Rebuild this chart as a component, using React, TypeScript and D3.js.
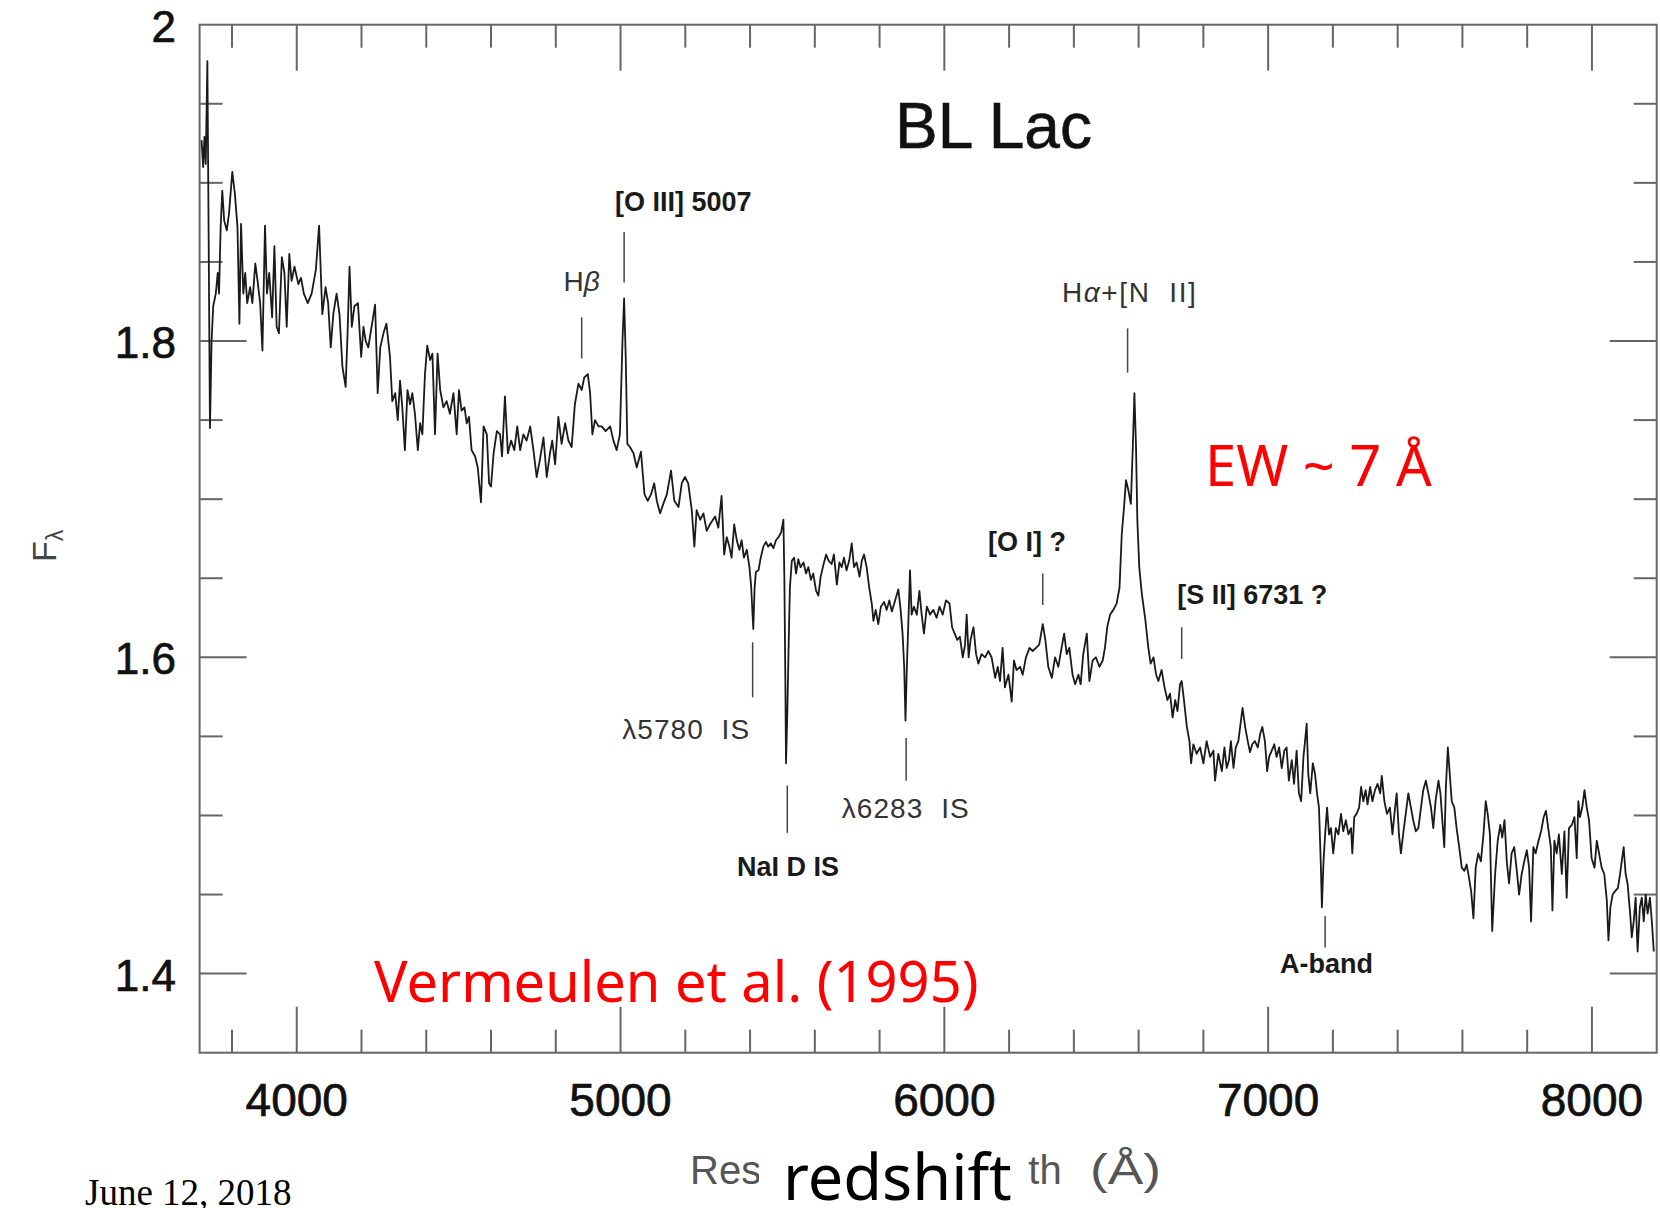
import React from "react";
import * as d3 from "d3";

// ---- data (rest wavelength in Å, F_lambda) ----
const blueArm: [number, number][] = [
  [3706,1.927],[3711,1.910],[3715,1.929],[3719,1.912],[3724,1.977],[3728,1.864],[3732,1.745],[3737,1.800],
  [3742,1.822],[3750,1.830],[3756,1.843],[3760,1.830],[3765,1.872],[3770,1.895],[3776,1.876],[3784,1.870],
  [3791,1.881],[3801,1.907],[3809,1.893],[3817,1.872],[3823,1.811],[3828,1.874],[3835,1.830],[3841,1.843],
  [3847,1.824],[3856,1.834],[3863,1.824],[3872,1.849],[3879,1.838],[3887,1.824],[3894,1.794],[3902,1.873],
  [3908,1.830],[3915,1.843],[3924,1.815],[3931,1.860],[3938,1.809],[3945,1.805],[3954,1.853],[3962,1.843],
  [3969,1.809],[3977,1.855],[3984,1.838],[3993,1.847],[4005,1.836],[4013,1.840],[4022,1.830],[4034,1.824],
  [4046,1.830],[4059,1.845],[4069,1.873],[4079,1.817],[4089,1.834],[4097,1.824],[4105,1.796],[4113,1.817],
  [4123,1.830],[4132,1.817],[4141,1.784],[4151,1.771],[4157,1.805],[4163,1.847],[4170,1.809],[4178,1.822],
  [4189,1.824],[4199,1.790],[4206,1.809],[4213,1.800],[4221,1.796],[4231,1.809],[4242,1.823],[4250,1.767],
  [4258,1.796],[4268,1.805],[4277,1.811],[4288,1.790],[4295,1.762],[4304,1.767],[4312,1.750],[4319,1.775],
  [4326,1.758],[4334,1.731],[4342,1.769],[4350,1.760],[4357,1.767],[4365,1.754],[4374,1.731],[4381,1.748],
  [4388,1.741],[4396,1.779],[4403,1.797],[4412,1.788],[4419,1.792],[4427,1.741],[4435,1.792],[4443,1.769],
  [4453,1.758],[4463,1.762],[4473,1.754],[4484,1.767],[4494,1.741],[4501,1.769],[4509,1.756],[4518,1.758],
  [4525,1.748],[4532,1.752],[4540,1.731],[4551,1.727],[4559,1.720],[4569,1.698],[4577,1.746],[4587,1.741],
  [4594,1.710],[4600,1.708],[4608,1.729],[4618,1.743],[4628,1.741],[4634,1.727],[4643,1.765],[4652,1.729],
  [4662,1.737],[4672,1.731],[4681,1.746],[4690,1.731],[4700,1.741],[4710,1.737],[4721,1.746],[4731,1.731],
  [4741,1.714],[4751,1.725],[4762,1.739],[4772,1.714],[4782,1.729],[4789,1.737],[4798,1.722],[4808,1.752],
  [4818,1.735],[4829,1.748],[4839,1.737],[4849,1.733],[4859,1.760],[4870,1.773],[4880,1.769],[4888,1.777],
  [4899,1.779],[4906,1.767],[4913,1.741],[4921,1.750],[4932,1.746],[4942,1.746],[4954,1.743],[4968,1.746],
  [4978,1.737],[4988,1.731],[4998,1.741],[5006,1.800],[5011,1.827],[5016,1.790],[5021,1.735],[5029,1.733],
  [5040,1.729],[5050,1.720],[5063,1.730],[5074,1.703],[5084,1.699],[5094,1.703],[5104,1.710],[5112,1.699],
  [5122,1.691],[5132,1.697],[5143,1.703],[5156,1.718],[5166,1.699],[5179,1.695],[5189,1.710],[5199,1.714],
  [5209,1.710],[5220,1.693],[5228,1.670],[5235,1.693],[5246,1.687],[5256,1.691],[5266,1.680],[5276,1.684],
];

const greenArm: [number, number][] = [
  [5292,1.689],[5302,1.682],[5312,1.702],[5320,1.665],[5328,1.676],[5336,1.670],[5343,1.663],[5351,1.684],
  [5359,1.674],[5367,1.668],[5374,1.674],[5381,1.663],[5390,1.668],[5398,1.657],[5403,1.646],[5407,1.630],
  [5410,1.618],[5414,1.644],[5418,1.654],[5426,1.655],[5433,1.663],[5441,1.670],[5449,1.673],[5456,1.670],
  [5464,1.672],[5472,1.669],[5480,1.674],[5488,1.676],[5496,1.679],[5503,1.687],[5506,1.649],[5509,1.585],
  [5511,1.533],[5515,1.564],[5519,1.606],[5523,1.644],[5529,1.661],[5536,1.663],[5542,1.653],[5549,1.662],
  [5556,1.657],[5565,1.660],[5573,1.653],[5580,1.657],[5588,1.649],[5595,1.653],[5604,1.642],[5611,1.639],
  [5618,1.651],[5626,1.658],[5635,1.665],[5643,1.661],[5652,1.659],[5659,1.665],[5668,1.646],[5676,1.660],
  [5683,1.657],[5690,1.663],[5698,1.655],[5706,1.661],[5714,1.672],[5721,1.657],[5729,1.660],[5738,1.651],
  [5745,1.661],[5752,1.665],[5760,1.657],[5768,1.644],[5776,1.634],[5781,1.623],[5788,1.630],[5796,1.621],
  [5804,1.632],[5814,1.635],[5822,1.630],[5830,1.636],[5838,1.629],[5848,1.636],[5858,1.643],[5865,1.630],
  [5871,1.615],[5876,1.594],[5880,1.560],[5884,1.592],[5889,1.623],[5894,1.655],[5899,1.627],[5906,1.632],
  [5915,1.627],[5923,1.642],[5930,1.627],[5937,1.615],[5946,1.632],[5956,1.627],[5966,1.630],[5976,1.625],
  [5985,1.632],[5995,1.627],[6005,1.636],[6016,1.634],[6024,1.619],[6032,1.615],[6040,1.611],[6048,1.613],
  [6057,1.600],[6064,1.608],[6069,1.627],[6075,1.600],[6081,1.611],[6090,1.619],[6098,1.602],[6105,1.596],
  [6115,1.602],[6126,1.600],[6136,1.604],[6146,1.600],[6157,1.587],[6165,1.594],[6172,1.585],[6180,1.606],
  [6187,1.581],[6198,1.589],[6208,1.572],[6215,1.598],[6223,1.592],[6234,1.594],[6242,1.589],[6252,1.600],
  [6263,1.606],[6273,1.604],[6283,1.606],[6293,1.608],[6304,1.621],[6312,1.611],[6321,1.594],[6332,1.587],
  [6342,1.600],[6352,1.594],[6362,1.606],[6370,1.615],[6378,1.602],[6386,1.606],[6396,1.589],[6404,1.583],
  [6414,1.589],[6421,1.583],[6429,1.602],[6440,1.615],[6448,1.585],[6458,1.598],[6468,1.600],[6479,1.594],
  [6489,1.598],[6496,1.606],[6503,1.619],[6512,1.627],[6522,1.630],[6532,1.634],[6541,1.644],[6548,1.678],
  [6555,1.695],[6561,1.712],[6568,1.706],[6576,1.697],[6582,1.733],[6587,1.767],[6592,1.733],[6596,1.687],
  [6602,1.657],[6610,1.640],[6620,1.625],[6630,1.606],[6637,1.596],[6646,1.600],[6654,1.589],[6661,1.585],
  [6671,1.592],[6680,1.581],[6689,1.573],[6697,1.577],[6705,1.562],[6713,1.573],[6720,1.566],[6728,1.583],
  [6733,1.585],[6740,1.573],[6749,1.556],[6757,1.547],[6762,1.533],[6769,1.545],[6779,1.539],[6790,1.543],
  [6800,1.533],[6810,1.547],[6821,1.537],[6831,1.541],[6836,1.522],[6846,1.539],
];

const redArm: [number, number][] = [
  [6857,1.528],[6865,1.543],[6872,1.530],[6879,1.535],[6885,1.547],[6893,1.530],[6900,1.543],[6908,1.547],
  [6916,1.560],[6921,1.568],[6929,1.556],[6937,1.547],[6944,1.540],[6951,1.545],[6959,1.547],[6968,1.543],
  [6976,1.552],[6982,1.556],[6990,1.547],[6997,1.528],[7003,1.537],[7011,1.541],[7019,1.545],[7026,1.537],
  [7034,1.543],[7042,1.530],[7050,1.541],[7057,1.543],[7064,1.522],[7073,1.535],[7080,1.520],[7088,1.541],
  [7095,1.514],[7102,1.509],[7109,1.537],[7114,1.547],[7119,1.558],[7124,1.526],[7130,1.514],[7138,1.533],
  [7145,1.526],[7151,1.514],[7157,1.505],[7163,1.467],[7166,1.442],[7171,1.471],[7176,1.488],[7182,1.505],
  [7188,1.488],[7194,1.492],[7201,1.476],[7209,1.492],[7217,1.488],[7225,1.501],[7232,1.490],[7240,1.497],
  [7248,1.488],[7256,1.492],[7260,1.476],[7266,1.499],[7273,1.501],[7281,1.505],[7287,1.518],[7294,1.509],
  [7301,1.516],[7307,1.507],[7315,1.518],[7322,1.509],[7330,1.516],[7338,1.520],[7346,1.514],[7351,1.525],
  [7359,1.509],[7367,1.501],[7376,1.505],[7384,1.488],[7390,1.501],[7397,1.514],[7404,1.488],[7410,1.476],
  [7418,1.490],[7425,1.501],[7433,1.514],[7441,1.505],[7448,1.497],[7456,1.490],[7464,1.492],[7472,1.505],
  [7479,1.516],[7487,1.522],[7495,1.514],[7503,1.505],[7510,1.492],[7517,1.509],[7526,1.522],[7532,1.514],
  [7538,1.497],[7544,1.480],[7549,1.518],[7555,1.543],[7561,1.526],[7567,1.509],[7575,1.505],[7582,1.492],
  [7590,1.480],[7598,1.467],[7606,1.465],[7613,1.469],[7620,1.461],[7627,1.452],[7634,1.435],[7641,1.467],
  [7649,1.476],[7657,1.471],[7665,1.488],[7672,1.509],[7678,1.501],[7685,1.488],[7692,1.427],[7701,1.463],
  [7709,1.484],[7717,1.494],[7723,1.486],[7730,1.497],[7737,1.471],[7744,1.457],[7752,1.476],[7760,1.480],
  [7769,1.463],[7775,1.450],[7783,1.463],[7791,1.471],[7799,1.478],[7806,1.467],[7812,1.433],[7819,1.480],
  [7826,1.476],[7835,1.484],[7843,1.490],[7851,1.499],[7858,1.503],[7865,1.492],[7873,1.480],[7878,1.440],
  [7884,1.484],[7891,1.476],[7898,1.488],[7907,1.463],[7915,1.490],[7922,1.448],[7929,1.492],[7938,1.494],
  [7946,1.499],[7953,1.473],[7958,1.509],[7963,1.499],[7970,1.505],[7977,1.516],[7984,1.505],[7991,1.497],
  [7999,1.473],[8008,1.467],[8015,1.484],[8022,1.476],[8030,1.467],[8038,1.463],[8046,1.446],[8051,1.421],
  [8057,1.442],[8064,1.450],[8071,1.452],[8080,1.454],[8087,1.463],[8092,1.471],[8098,1.480],[8104,1.463],
  [8110,1.457],[8118,1.438],[8123,1.423],[8129,1.433],[8135,1.448],[8141,1.414],[8148,1.442],[8154,1.448],
  [8160,1.433],[8166,1.450],[8172,1.438],[8179,1.448],[8185,1.433],[8191,1.414],
];

const xMajorTicks = [4000, 5000, 6000, 7000, 8000];
const xMinorTicks = [3800, 4200, 4400, 4600, 4800, 5200, 5400, 5600, 5800, 6200, 6400, 6600, 6800, 7200, 7400, 7600, 7800];
const yMajorTicks = [1.4, 1.6, 1.8];
const yMinorTicks = [1.45, 1.5, 1.55, 1.65, 1.7, 1.75, 1.85, 1.9, 1.95];
const yTickLabels = [
  { v: 1.4, t: "1.4" },
  { v: 1.6, t: "1.6" },
  { v: 1.8, t: "1.8" },
  { v: 2.0, t: "2" },
];

// spectral features: wavelength of marker, flux span of marker, label anchor (wl, flux)
type Mark = { label: string; greek?: string; rest?: string; wl: number; f0: number; f1: number; lwl: number; lf: number; anchor: string; bold: boolean };
const featureMarks: Mark[] = [
  { label: "H", greek: "β", rest: "", wl: 4880, f0: 1.815, f1: 1.789, lwl: 4880, lf: 1.8315, anchor: "middle", bold: false },
  { label: "[O III] 5007", wl: 5011, f0: 1.869, f1: 1.837, lwl: 4983, lf: 1.882, anchor: "start", bold: true },
  { label: "H", greek: "α", rest: "+[N  II]", wl: 6566, f0: 1.808, f1: 1.780, lwl: 6570, lf: 1.8245, anchor: "middle", bold: false },
  { label: "[O I] ?", wl: 6304, f0: 1.653, f1: 1.633, lwl: 6135, lf: 1.667, anchor: "start", bold: true },
  { label: "[S II] 6731 ?", wl: 6733, f0: 1.619, f1: 1.599, lwl: 6719, lf: 1.634, anchor: "start", bold: true },
  { label: "λ5780  IS", wl: 5408, f0: 1.6095, f1: 1.5747, lwl: 5005, lf: 1.5485, anchor: "start", bold: false },
  { label: "NaI D IS", wl: 5515, f0: 1.519, f1: 1.489, lwl: 5517, lf: 1.462, anchor: "middle", bold: true },
  { label: "λ6283  IS", wl: 5882, f0: 1.549, f1: 1.522, lwl: 5683, lf: 1.4985, anchor: "start", bold: false },
  { label: "A-band", wl: 7176, f0: 1.4365, f1: 1.4165, lwl: 7037, lf: 1.4004, anchor: "start", bold: true },
];

// label widths (px) measured on the reference, used only for text fitting
const labelFit: Record<string, number> = { "H+[N  II]": 134, "λ5780  IS": 127, "λ6283  IS": 127 };

const W = 1660;
const H = 1208;
const plot = { left: 199.6, right: 1656.7, top: 24.7, bottom: 1052.7 };

export default function App() {
  const x = d3.scaleLinear().domain([3700, 8200]).range([plot.left, plot.right]);
  const y = d3.scaleLinear().domain([1.35, 2.0]).range([plot.bottom, plot.top]);
  const spectrum = [...blueArm, ...greenArm, ...redArm];
  const line = d3.line<[number, number]>().x((d) => x(d[0])).y((d) => y(d[1]));

  const sans = "'Liberation Sans', Arial, Helvetica, sans-serif";
  const axisCol = "#666";

  return (
    <div style={{ position: "absolute", left: 0, top: 0, width: W, height: H, background: "#fff" }}>
      <svg width={W} height={H} viewBox={`0 0 ${W} ${H}`} style={{ display: "block" }}>
        <rect x={0} y={0} width={W} height={H} fill="#fff" />

        {/* ticks */}
        <g stroke={axisCol} strokeWidth={2}>
          {xMajorTicks.map((v) => (
            <g key={"xM" + v}>
              <line x1={x(v)} x2={x(v)} y1={plot.bottom} y2={plot.bottom - 46} />
              <line x1={x(v)} x2={x(v)} y1={plot.top} y2={plot.top + 46} />
            </g>
          ))}
          {xMinorTicks.map((v) => (
            <g key={"xm" + v}>
              <line x1={x(v)} x2={x(v)} y1={plot.bottom} y2={plot.bottom - 23} />
              <line x1={x(v)} x2={x(v)} y1={plot.top} y2={plot.top + 23} />
            </g>
          ))}
          {yMajorTicks.map((v) => (
            <g key={"yM" + v}>
              <line x1={plot.left} x2={plot.left + 47} y1={y(v)} y2={y(v)} />
              <line x1={plot.right} x2={plot.right - 47} y1={y(v)} y2={y(v)} />
            </g>
          ))}
          {yMinorTicks.map((v) => (
            <g key={"ym" + v}>
              <line x1={plot.left} x2={plot.left + 23} y1={y(v)} y2={y(v)} />
              <line x1={plot.right} x2={plot.right - 23} y1={y(v)} y2={y(v)} />
            </g>
          ))}
        </g>

        {/* frame */}
        <rect x={plot.left} y={plot.top} width={plot.right - plot.left} height={plot.bottom - plot.top}
          fill="none" stroke={axisCol} strokeWidth={2} />

        {/* spectrum */}
        <path d={line(spectrum) || ""} fill="none" stroke="#1a1a1a" strokeWidth={1.8} strokeLinejoin="round" />

        {/* feature marks */}
        <g>
          {featureMarks.map((m, i) => {
            const key = m.label + (m.rest || "");
            const fit = labelFit[key];
            return (
              <g key={"fm" + i}>
                <line x1={x(m.wl)} x2={x(m.wl)} y1={y(m.f0)} y2={y(m.f1)} stroke="#444" strokeWidth={1.5} />
                <text x={x(m.lwl)} y={y(m.lf)} textAnchor={m.anchor as any}
                  fontFamily={sans} fontSize={m.bold ? 27 : 28} fontWeight={m.bold ? "bold" : "normal"}
                  fill={m.bold ? "#1a1a1a" : "#333"} style={{ whiteSpace: "pre" }}
                  {...(fit ? { textLength: fit, lengthAdjust: "spacing" } : {})}>
                  {m.label}
                  {m.greek ? <tspan fontStyle="italic">{m.greek}</tspan> : null}
                  {m.rest ? <tspan>{m.rest}</tspan> : null}
                </text>
              </g>
            );
          })}
        </g>

        {/* y tick labels */}
        {yTickLabels.map((d) => (
          <text key={"yl" + d.t} x={176} y={y(d.v) + 17} textAnchor="end" fontFamily={sans} fontSize={44}
            fill="#111" stroke="#111" strokeWidth={0.7}>
            {d.t}
          </text>
        ))}

        {/* x tick labels */}
        {xMajorTicks.map((v) => (
          <text key={"xl" + v} x={x(v)} y={1116} textAnchor="middle" fontFamily={sans} fontSize={46}
            fill="#111" stroke="#111" strokeWidth={0.7}>
            {v}
          </text>
        ))}

        {/* y axis title */}
        <text transform="translate(56,562) rotate(-90)" fontFamily={sans} fontSize={34} fill="#444">
          F<tspan fontSize={23} dy={7}>λ</tspan>
        </text>

        {/* plot title */}
        <text x={895} y={148} fontFamily={sans} fontSize={64} fill="#111" stroke="#111" strokeWidth={0.6}>BL Lac</text>

        {/* x axis title (partially covered by the slide's "redshift" box) */}
        <text x={690} y={1184} fontFamily={sans} fontSize={40} fill="#555" wordSpacing={76}>
          Rest wavelength
        </text>
        <text x={1090} y={1184} fontFamily={sans} fontSize={42} fill="#555" textLength={71} lengthAdjust="spacingAndGlyphs">
          (Å)
        </text>
        <rect x={759} y={1138} width={267} height={70} fill="#fff" />
        <text x={783} y={1200} fontFamily="'Noto Sans', sans-serif" fontSize={63} fill="#000">redshift</text>

        {/* slide annotations */}
        <text x={1205} y={486} fontFamily="'Noto Sans', sans-serif" fontSize={56} fill="#ff0000">EW ~ 7 Å</text>
        <text x={374} y={1002} fontFamily="'Noto Sans', sans-serif" fontSize={56} fill="#ff0000">Vermeulen et al. (1995)</text>
        <text x={85} y={1205} fontFamily="'Liberation Serif', 'Times New Roman', serif" fontSize={37} fill="#000">June 12, 2018</text>
      </svg>
    </div>
  );
}
